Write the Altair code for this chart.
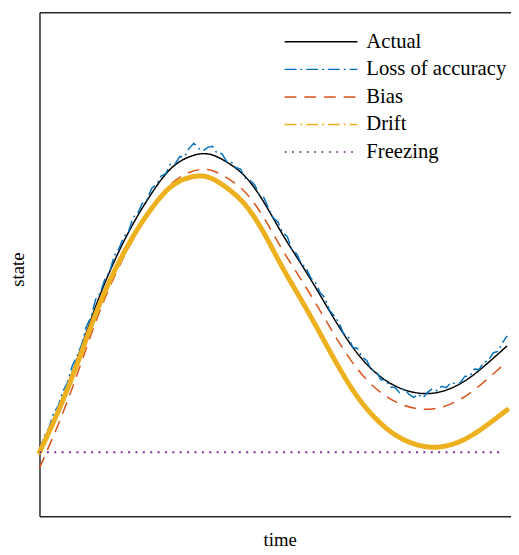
import altair as alt
import pandas as pd

# time grid for the smooth series (0..100)
t_smooth = [0, 4, 8, 12, 16, 20, 24, 28, 32, 36, 40, 44, 48, 52, 56, 60, 64, 68, 72, 76, 80, 84, 88, 92, 96, 100]
actual = [1.27, 2.13, 3.11, 4.16, 5.06, 5.80, 6.41, 6.89, 7.13, 7.19, 7.03, 6.74, 6.23, 5.59, 5.00, 4.39,
          3.77, 3.23, 2.84, 2.59, 2.46, 2.44, 2.54, 2.75, 3.05, 3.38]
bias = [0.96, 1.82, 2.80, 3.85, 4.75, 5.49, 6.10, 6.58, 6.82, 6.88, 6.72, 6.43, 5.92, 5.28, 4.69, 4.08,
        3.46, 2.92, 2.53, 2.28, 2.15, 2.13, 2.23, 2.44, 2.74, 3.07]
drift = [1.27, 2.08, 3.01, 4.01, 4.86, 5.55, 6.11, 6.53, 6.72, 6.73, 6.52, 6.18, 5.62, 4.93, 4.29, 3.63,
         2.96, 2.37, 1.93, 1.62, 1.44, 1.37, 1.42, 1.58, 1.83, 2.11]

# noisy measurement (one reading per time unit)
t_noisy = list(range(0, 101))
loss = [1.30, 1.58, 1.75, 2.04, 2.19, 2.48, 2.65, 2.98, 3.18, 3.40,
        3.76, 3.95, 4.30, 4.43, 4.71, 4.85, 5.17, 5.31, 5.54, 5.64,
        5.93, 6.01, 6.21, 6.28, 6.51, 6.58, 6.75, 6.80, 6.99, 6.99,
        7.14, 7.13, 7.30, 7.40, 7.30, 7.25, 7.32, 7.34, 7.20, 7.20,
        7.04, 7.03, 6.92, 6.89, 6.71, 6.67, 6.58, 6.39, 6.32, 6.11,
        5.92, 5.84, 5.63, 5.55, 5.28, 5.21, 5.01, 4.93, 4.73, 4.64,
        4.44, 4.34, 4.09, 3.98, 3.85, 3.63, 3.57, 3.35, 3.33, 3.16,
        3.09, 2.90, 2.88, 2.71, 2.71, 2.56, 2.56, 2.45, 2.53, 2.42,
        2.36, 2.42, 2.35, 2.46, 2.53, 2.49, 2.58, 2.55, 2.65, 2.63,
        2.65, 2.78, 2.78, 2.92, 2.91, 3.05, 3.09, 3.24, 3.27, 3.44,
        3.58]

t_freeze = [0, 99.4]
freezing = [1.27, 1.27]

series_order = ["Actual", "Loss of accuracy", "Bias", "Drift", "Freezing"]
colors = ["#000000", "#0072BD", "#D95319", "#EDB120", "#7E2F8E"]
dashes = [[1, 0], [12, 4, 2, 4], [12, 8], [12, 4, 2, 4], [2, 5.5]]

rows = []
for name, ts, vs in [("Actual", t_smooth, actual), ("Loss of accuracy", t_noisy, loss),
                     ("Bias", t_smooth, bias), ("Drift", t_smooth, drift),
                     ("Freezing", t_freeze, freezing)]:
    for t, v in zip(ts, vs):
        rows.append({"time": t, "state": v, "series": name})
df = pd.DataFrame(rows)

FONT = "Liberation Serif"
xs = alt.Scale(domain=[0, 100.84], nice=False, zero=False)
ys = alt.Scale(domain=[0, 10], nice=False, zero=False)

legend = alt.Legend(title=None, orient="none", legendX=248, legendY=17, symbolType="stroke",
                    symbolSize=5476, symbolStrokeWidth=1.5, clipHeight=26, rowPadding=2,
                    labelFont=FONT, labelFontSize=21, labelOffset=8, padding=0,
                    labelColor="black", labelLimit=300)

color = alt.Color("series:N", scale=alt.Scale(domain=series_order, range=colors), legend=legend)
dash = alt.StrokeDash("series:N", scale=alt.Scale(domain=series_order, range=dashes), legend=legend)
y = alt.Y("state:Q", scale=ys, title="state",
          axis=alt.Axis(labels=False, ticks=False, grid=False, titlePadding=12, titleY=261))

x_bottom = alt.X("time:Q", scale=xs, title="time",
                 axis=alt.Axis(labels=False, ticks=False, grid=False, titlePadding=15, titleX=244))
x_none = alt.X("time:Q", scale=xs, axis=None)
x_top = alt.X("time:Q", scale=xs, axis=alt.Axis(orient="top", labels=False, ticks=False,
                                               grid=False, title=None))

def sel(names):
    return alt.FieldOneOfPredicate(field="series", oneOf=names)

smooth = alt.Chart(df).transform_filter(sel(["Actual", "Bias"])).mark_line(
    interpolate="natural", strokeWidth=1.5).encode(x=x_bottom, y=y, color=color, strokeDash=dash)
noisy = alt.Chart(df).transform_filter(sel(["Loss of accuracy"])).mark_line(
    strokeWidth=1.5).encode(x=x_none, y=y, color=color, strokeDash=dash)
drift_l = alt.Chart(df).transform_filter(sel(["Drift"])).mark_line(
    interpolate="natural", strokeWidth=5, strokeCap="round").encode(
    x=x_none, y=y, color=color, strokeDash=alt.value([1, 0]))
freeze_l = alt.Chart(df).transform_filter(sel(["Freezing"])).mark_line(
    strokeWidth=1.8).encode(x=x_top, y=y, color=color, strokeDash=dash)

chart = alt.layer(smooth, noisy, drift_l, freeze_l).resolve_axis(x="independent").properties(
    width=479, height=512,
    autosize=alt.AutoSizeParams(type="none"),
    padding={"left": 32, "top": 0, "right": 0, "bottom": 35},
).configure_view(stroke=None).configure_axis(
    domainColor="#262626", domainWidth=1.5, titleFont=FONT, titleFontSize=19,
    titleFontWeight="normal", titleColor="black"
)

chart.save("out.html", embed_options={"renderer": "svg", "actions": False})
